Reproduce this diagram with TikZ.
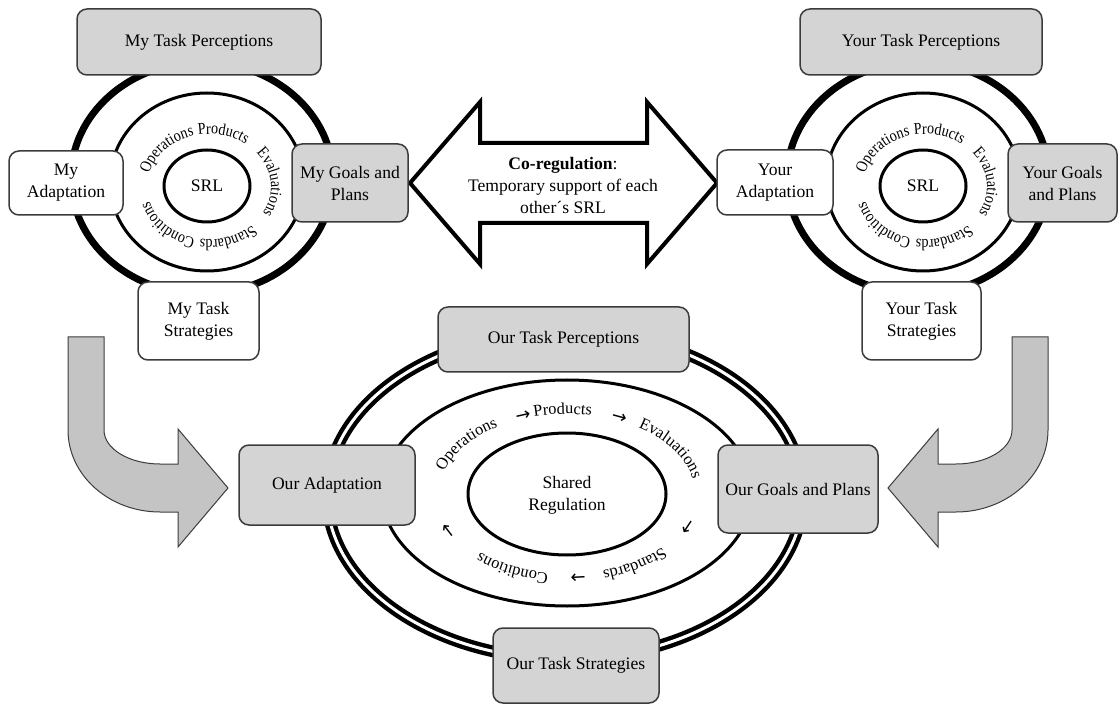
\documentclass[tikz,border=0pt]{standalone}
\usepackage{fontspec}
\setmainfont{Liberation Serif}
\newfontfamily\ringfam[FakeStretch=0.86]{Liberation Serif}
\newfontfamily\markfam{DejaVu Sans}
\usetikzlibrary{decorations.text}

\definecolor{boxgray}{RGB}{212,212,212}
\definecolor{arrowgray}{RGB}{196,196,196}
\definecolor{edgegray}{RGB}{60,60,60}

\newcommand\labelfont{\fontsize{8.8}{11}\selectfont}
\newcommand\smallringfont{\ringfam\fontsize{8.2}{9}\selectfont}
\newcommand\bigringfont{\fontsize{8.2}{9}\selectfont}
\newcommand\markfont{\markfam\fontsize{9}{10}\selectfont}

% Text set along a clockwise elliptic arc around a centre.
% #1 font, #2 centre, #3 x radius, #4 y radius, #5 middle angle, #6 half span, #7 text
\newcommand\ringtext[7]{%
  \path[decorate, decoration={text along path, text align=center,
        text={|#1|#7}}]
    (#2) ++({-(#5+#6)}:#3 and #4)
    arc[start angle={-(#5+#6)}, end angle={-(#5-#6)}, x radius=#3, y radius=#4];}
\newcommand\smallword[2]{\ringtext{\smallringfont}{#1}{62}{53}{#2}{50}}
\newcommand\bigword[3]{\ringtext{\bigringfont}{ourc}{128}{80}{#1}{#2}{#3}}
\newcommand\bigmark[1]{\ringtext{\markfont}{ourc}{126}{78}{#1}{10}{→}}

\begin{document}
\begin{tikzpicture}[x=0.5pt, y=-0.5pt,
  box/.style={draw=edgegray, line width=0.75pt, rounded corners=5pt,
              align=center, font=\labelfont, inner sep=1pt},
  graybox/.style={box, fill=boxgray},
  whitebox/.style={box, fill=white},
  thickring/.style={line width=3.5pt},
  thinring/.style={line width=1.5pt},
  bigarrow/.style={draw=edgegray, line width=0.5pt, fill=arrowgray},
  coarrow/.style={draw=black, line width=2pt, fill=white, line join=miter}]

\fill[white] (0,0) rectangle (1118,705);
\useasboundingbox (0,0) rectangle (1118,705);

% ---------- centres of the three regulation circles ----------
\coordinate (myc)  at (209,187);
\coordinate (yoc)  at (925,187);
\coordinate (ourc) at (567,494);

% ---------- my SRL ----------
\draw[thickring] (202,178) ellipse [x radius=131, y radius=116];
\draw[thinring]  (207,182) ellipse [x radius=97,  y radius=89];
\draw[thinring]  (207,186) ellipse [x radius=43,  y radius=36];
\node[font=\labelfont] (mysrl) at (207,186) {SRL};
\smallword{myc}{136}{Operations}
\smallword{myc}{76}{Products}
\smallword{myc}{5}{Evaluations}
\smallword{myc}{-71}{Standards}
\smallword{myc}{-135}{Conditions}

% ---------- your SRL ----------
\draw[thickring] (918,178) ellipse [x radius=131, y radius=116];
\draw[thinring]  (923,182) ellipse [x radius=97,  y radius=89];
\draw[thinring]  (923,186) ellipse [x radius=43,  y radius=36];
\node[font=\labelfont] (yosrl) at (923,186) {SRL};
\smallword{yoc}{136}{Operations}
\smallword{yoc}{76}{Products}
\smallword{yoc}{5}{Evaluations}
\smallword{yoc}{-71}{Standards}
\smallword{yoc}{-135}{Conditions}

% ---------- shared regulation ----------
\draw[line width=2.2pt, double=white, double distance=1.5pt]
  (565,495) ellipse [x radius=238, y radius=164];
\draw[thinring] (567,493) ellipse [x radius=185, y radius=113];
\draw[thinring] (567,494) ellipse [x radius=99,  y radius=61];
\node[font=\labelfont, align=center] (shared) at (567,495) {Shared\\Regulation};
\bigword{147}{40}{Operations}
\bigmark{110}
\bigword{92}{25}{Products}
\bigmark{66}
\bigword{30}{40}{Evaluations}
\bigmark{-22}
\bigword{-56}{30}{Standards}
\bigmark{-85}
\bigword{-117}{30}{Conditions}
\bigmark{-155}

% ---------- co-regulation double arrow ----------
\draw[coarrow] (410,183) -- (480,102) -- (480,143) -- (647,143) -- (647,102)
  -- (717,183) -- (647,264) -- (647,223) -- (480,223) -- (480,264) -- cycle;
\node[font=\labelfont, align=center] (coreg) at (563,185)
  {\textbf{Co-regulation}:\\Temporary support of each\\other´s SRL};

% ---------- curved arrows into the shared circle ----------
\draw[bigarrow] (68,337) -- (104,337) -- (104,430)
  arc[start angle=-180, end angle=-270, x radius=56, y radius=34]
  -- (178,464) -- (178,429) -- (228,488) -- (178,547) -- (178,512) -- (160,512)
  arc[start angle=-270, end angle=-180, x radius=92, y radius=82] -- cycle;
\draw[bigarrow] (1048,337) -- (1012,337) -- (1012,430)
  arc[start angle=0, end angle=90, x radius=56, y radius=34]
  -- (938,464) -- (938,429) -- (888,488) -- (938,547) -- (938,512) -- (956,512)
  arc[start angle=90, end angle=0, x radius=92, y radius=82] -- cycle;

% ---------- boxes ----------
\node[graybox,  minimum width=122pt, minimum height=33pt] (mytp) at (199,42) {My Task Perceptions};
\node[whitebox, minimum width=57pt,  minimum height=32pt] (myad) at (66,183) {My\\Adaptation};
\node[graybox,  minimum width=58pt,  minimum height=39pt] (mygp) at (350,183) {My Goals and\\Plans};
\node[whitebox, minimum width=60.5pt,minimum height=39pt] (myts) at (198.5,321) {My Task\\Strategies};

\node[graybox,  minimum width=121pt, minimum height=33pt] (yotp) at (921,42) {Your Task Perceptions};
\node[whitebox, minimum width=58pt,  minimum height=32.5pt] (yoad) at (775,182.5) {Your\\Adaptation};
\node[graybox,  minimum width=54.5pt,minimum height=39pt] (yogp) at (1062.5,183) {Your Goals\\and Plans};
\node[whitebox, minimum width=59.5pt,minimum height=39pt] (yots) at (921.5,321) {Your Task\\Strategies};

\node[graybox, minimum width=125.5pt, minimum height=32.5pt] (ourtp) at (563.5,339.5) {Our Task Perceptions};
\node[graybox, minimum width=88pt,   minimum height=40pt]   (ourad) at (327,485) {Our Adaptation};
\node[graybox, minimum width=80pt,   minimum height=44pt]   (ourgp) at (798,489) {Our Goals and Plans};
\node[graybox, minimum width=83pt,   minimum height=37.5pt] (ourts) at (576,665.5) {Our Task Strategies};
\end{tikzpicture}
\end{document}
